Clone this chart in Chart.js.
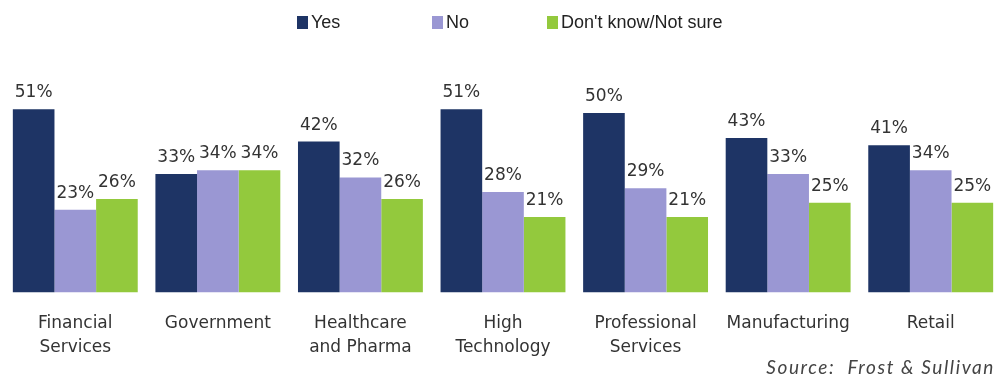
<!DOCTYPE html>
<html>
<head>
<meta charset="utf-8">
<script src="https://cdn.jsdelivr.net/npm/chart.js@4"></script>
<style>
  html, body { margin: 0; padding: 0; background: #fff; }
  #wrap { position: relative; width: 1002px; height: 380px; }
  #chart { position: absolute; left: 0; top: 0; }
  .lg { position: absolute; top: 12px; font: 18px 'Liberation Sans', Arial, sans-serif; color: #222; display: flex; align-items: center; }
  .lg i { display: inline-block; width: 11px; height: 13px; margin-right: 3px; }
  #source { position: absolute; right: 7px; top: 355px; font: italic 19px 'Lato', sans-serif; letter-spacing: 1.6px; color: #444; white-space: pre; }
</style>
</head>
<body>
<div id="wrap">
  <canvas id="chart" width="1002" height="380"></canvas>
  <div class="lg" style="left:297px"><i style="background:#1e3465"></i>Yes</div>
  <div class="lg" style="left:432px"><i style="background:#9a97d3"></i>No</div>
  <div class="lg" style="left:547px"><i style="background:#93c93d"></i>Don't know/Not sure</div>
  <div id="source">Source:  Frost &amp; Sullivan</div>
</div>
<script>
const categories = [
    ['Financial', 'Services'],
    'Government',
    ['Healthcare', 'and Pharma'],
    ['High', 'Technology'],
    ['Professional', 'Services'],
    'Manufacturing',
    'Retail'
];
const yesValues = [51, 33, 42, 51, 50, 43, 41];
const noValues = [23, 34, 32, 28, 29, 33, 34];
const notSureValues = [26, 34, 26, 21, 21, 25, 25];

const seriesNames = ['Yes', 'No', "Don't know/Not sure"];
const seriesColors = ['#1e3465', '#9a97d3', '#93c93d'];

// подписи над столбцами
const barLabels = {
    id: 'barLabels',
    afterDatasetsDraw(chart) {
        const ctx = chart.ctx;
        ctx.save();
        ctx.font = '17px "DejaVu Sans", sans-serif';
        ctx.fillStyle = '#333';
        ctx.textAlign = 'center';
        ctx.textBaseline = 'bottom';
        chart.data.datasets.forEach((ds, i) => {
            chart.getDatasetMeta(i).data.forEach((bar, j) => {
                ctx.fillText(ds.data[j] + '%', bar.x, bar.y - 8);
            });
        });
        ctx.restore();
    }
};

new Chart(document.getElementById('chart'), {
    type: 'bar',
    data: {
        labels: categories,
        datasets: [yesValues, noValues, notSureValues].map((vals, i) => ({
            label: seriesNames[i],
            data: vals,
            backgroundColor: seriesColors[i],
            categoryPercentage: 0.876,
            barPercentage: 1.0
        }))
    },
    options: {
        responsive: false,
        animation: false,
        layout: { padding: { top: 77, left: 4, right: 0, bottom: 2 } },
        plugins: {
            legend: { display: false },
            tooltip: { enabled: false }
        },
        scales: {
            x: {
                grid: { display: false, drawTicks: false },
                border: { display: false },
                ticks: {
                    padding: 19,
                    color: '#333',
                    font: { family: '"DejaVu Sans", sans-serif', size: 17, lineHeight: 1.4 }
                }
            },
            y: {
                display: false,
                min: 0,
                max: 60
            }
        }
    },
    plugins: [barLabels]
});
</script>
</body>
</html>
